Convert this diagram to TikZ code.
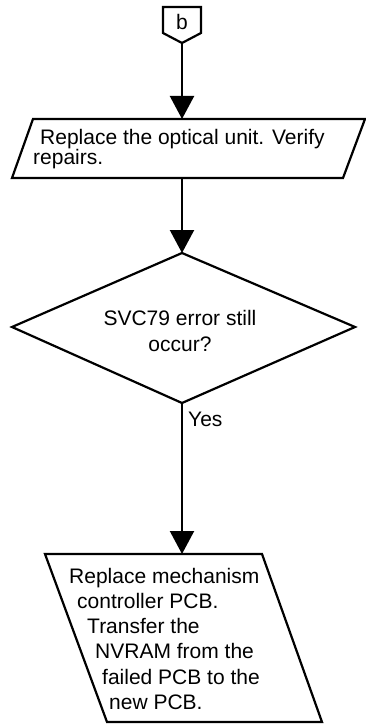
\documentclass[tikz,border=0pt]{standalone}
\usepackage{fontspec}
\setmainfont{Liberation Sans}
\usetikzlibrary{arrows.meta}
\tikzset{
  shapeline/.style={draw=black, line width=2.2pt, line join=miter},
  flow/.style={draw=black, line width=2.2pt, -{Triangle[length=23pt,width=24pt]}},
  txt/.style={inner sep=0pt, font=\fontsize{21}{25}\selectfont},
}
\begin{document}
\begin{tikzpicture}[x=1pt,y=-1pt]
\useasboundingbox (0,0) rectangle (366,727);
% off-page connector
\coordinate (cb) at (182,43);
\draw[shapeline] (163,7) -- (201,7) -- (201,33) -- (cb) -- (163,33) -- cycle;
\node[txt, anchor=base] (blab) at (182,30) {b};
% parallelogram
\coordinate (p1t) at (182,119);
\coordinate (p1b) at (182,178);
\draw[shapeline] (33,119) -- (365,119) -- (343,178) -- (12,178) -- cycle;
\node[txt, anchor=base west, align=left, font=\fontsize{21}{20}\selectfont] (t1) at (33,165)
  {\hspace*{7pt}Replace the optical unit. Verify\\repairs.};
% diamond
\coordinate (dt) at (182,253);
\coordinate (db) at (182,403);
\draw[shapeline] (dt) -- (355,327) -- (db) -- (12,327) -- cycle;
\node[txt, anchor=base, align=center, font=\fontsize{21}{26}\selectfont] (t2) at (180,351)
  {SVC79 error still\\occur?};
\node[txt, anchor=base west] (yes) at (188,426) {Yes};
% bottom box
\coordinate (qt) at (182,554);
\draw[shapeline] (45,554) -- (262,554) -- (322,722) -- (107,722) -- cycle;
\node[txt, anchor=base west, align=left, font=\fontsize{21}{25.3}\selectfont] (t3) at (69,709.5)
  {Replace mechanism\\
   \hspace*{8pt}controller PCB.\\
   \hspace*{18pt}Transfer the\\
   \hspace*{26pt}NVRAM from the\\
   \hspace*{33pt}failed PCB to the\\
   \hspace*{40pt}new PCB.};
% connectors
\draw[flow] (cb) -- (p1t);
\draw[flow] (p1b) -- (dt);
\draw[flow] (db) -- (qt);
\end{tikzpicture}
\end{document}
